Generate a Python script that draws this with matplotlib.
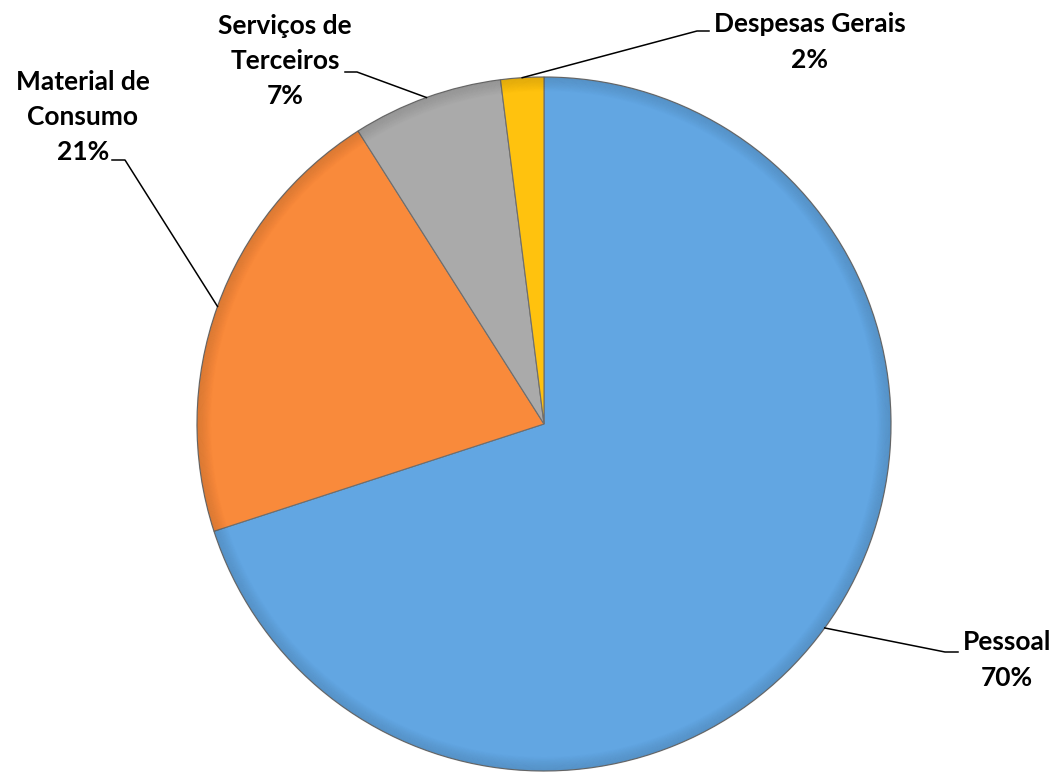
import matplotlib
matplotlib.use("Agg")
import matplotlib.pyplot as plt
import numpy as np
from matplotlib.patches import Circle

categories = ["Pessoal", "Material de\nConsumo", "Serviços de\nTerceiros", "Despesas Gerais"]
values = [70, 21, 7, 2]
colors = ["#62A6E2", "#F98A3B", "#AAAAAA", "#FFC20E"]

W, H = 1060, 773
fig = plt.figure(figsize=(W / 100, H / 100), dpi=100)
ax = fig.add_axes([0, 0, 1, 1])

cx, cy = 544, H - 424
R = 347

wedges, _ = ax.pie(values, colors=colors, startangle=90, counterclock=False,
                   center=(cx, cy), radius=R, frame=True,
                   wedgeprops=dict(edgecolor="#6E6E6E", linewidth=0.8))
ax.set_xlim(0, W)
ax.set_ylim(0, H)
ax.axis("off")

# soft dark rim to mimic the bevel
for i in range(16):
    ax.add_patch(Circle((cx, cy), R - i * 0.9, fill=False, edgecolor="black",
                        linewidth=1.4, alpha=0.06 * (16 - i) / 16, zorder=3))

label_pos = {
    0: (1007, 660),
    1: (83, 117),
    2: (285, 61),
    3: (810, 42),
}
label_text = [
    f"Pessoal\n{values[0]}%",
    f"Material de\nConsumo\n{values[1]}%",
    f"Serviços de\nTerceiros\n{values[2]}%",
    f"Despesas Gerais\n{values[3]}%",
]
elbow = {
    0: ((945, 652), (958, 652)),
    1: ((125, 160), (112, 160)),
    2: ((357, 72), (345, 72)),
    3: ((697, 31), (709, 31)),
}

for i, w in enumerate(wedges):
    ang = np.deg2rad((w.theta1 + w.theta2) / 2)
    px, py = cx + R * np.cos(ang), cy + R * np.sin(ang)
    (ex, ey), (hx, hy) = elbow[i]
    ax.plot([px, ex, hx], [py, H - ey, H - hy], color="black", lw=1.1, zorder=4)
    tx, ty = label_pos[i]
    ax.text(tx, H - ty, label_text[i], ha="center", va="center",
            fontsize=19, fontweight="bold", family="Lato",
            linespacing=1.55, color="black", zorder=5)

fig.savefig("out.png", dpi=100)
